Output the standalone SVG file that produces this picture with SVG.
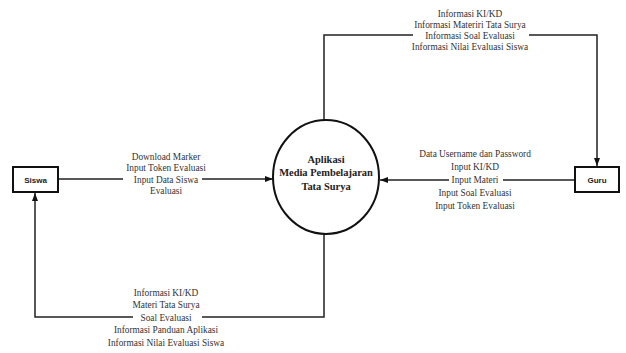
<svg xmlns="http://www.w3.org/2000/svg" width="626" height="353" viewBox="0 0 626 353">
<style>
.box{fill:#fff;stroke:#111;stroke-width:2}
.proc{fill:#fff;stroke:#111;stroke-width:2}
.ent{font-family:"Liberation Sans",Arial,sans-serif;font-weight:bold;font-size:8px;fill:#222;text-anchor:middle}
.ptxt{font-family:"Liberation Serif","Times New Roman",serif;font-weight:bold;font-size:11px;fill:#222;text-anchor:middle}
.lbl{font-family:"Liberation Serif","Times New Roman",serif;font-size:11px;fill:#333;text-anchor:middle}
.flow{fill:none;stroke:#222;stroke-width:1.5}
</style>
<defs>
<marker id="arr" viewBox="0 0 8 6" refX="8" refY="3" markerWidth="8" markerHeight="6" markerUnits="userSpaceOnUse" orient="auto">
<path d="M0,0 L8,3 L0,6 z" fill="#111"/>
</marker>
</defs>
<rect width="626" height="353" fill="#fff"/>
<g id="connectors">
<path class="flow" d="M58,179 H123 M202,179 H273" marker-end="url(#arr)"/>
<path class="flow" d="M575,180 H503 M449,180 H380" marker-end="url(#arr)"/>
<path class="flow" d="M324,120 V35 H413 M529,35 H597 V166" marker-end="url(#arr)"/>
<path class="flow" d="M324,234 V317 H202 M133,317 H35 V193" marker-end="url(#arr)"/>
</g>
<g id="label-siswa-in" transform="translate(166,0) scale(0.85,1)">
<text class="lbl" x="0" y="160.5">Download Marker</text>
<text class="lbl" x="0" y="171.5">Input Token Evaluasi</text>
<text class="lbl" x="0" y="183">Input Data Siswa</text>
<text class="lbl" x="0" y="194.5">Evaluasi</text>
</g>
<g id="label-guru-in" transform="translate(475,0) scale(0.85,1)">
<text class="lbl" x="0" y="157">Data Username dan Password</text>
<text class="lbl" x="0" y="170">Input KI/KD</text>
<text class="lbl" x="0" y="183.5">Input Materi</text>
<text class="lbl" x="0" y="196">Input Soal Evaluasi</text>
<text class="lbl" x="0" y="209">Input Token Evaluasi</text>
</g>
<g id="label-guru-out" transform="translate(470,0) scale(0.85,1)">
<text class="lbl" x="0" y="17.5">Informasi KI/KD</text>
<text class="lbl" x="0" y="28.5">Informasi Materiri Tata Surya</text>
<text class="lbl" x="0" y="39">Informasi Soal Evaluasi</text>
<text class="lbl" x="0" y="50">Informasi Nilai Evaluasi Siswa</text>
</g>
<g id="label-siswa-out" transform="translate(166,0) scale(0.85,1)">
<text class="lbl" x="0" y="296.5">Informasi KI/KD</text>
<text class="lbl" x="0" y="308.5">Materi Tata Surya</text>
<text class="lbl" x="0" y="321">Soal Evaluasi</text>
<text class="lbl" x="0" y="333.5">Informasi Panduan Aplikasi</text>
<text class="lbl" x="0" y="346">Informasi Nilai Evaluasi Siswa</text>
</g>
<g id="siswa">
<rect class="box" x="13" y="167" width="45" height="25"/>
<text class="ent" x="35.5" y="182.5">Siswa</text>
</g>
<g id="guru">
<rect class="box" x="575" y="167" width="44" height="25"/>
<text class="ent" x="597" y="182.5">Guru</text>
</g>
<g id="aplikasi">
<ellipse class="proc" cx="326" cy="177" rx="53" ry="57"/>
<g transform="translate(326,0) scale(0.95,1)">
<text class="ptxt" x="0" y="163">Aplikasi</text>
<text class="ptxt" x="0" y="176.5">Media Pembelajaran</text>
<text class="ptxt" x="0" y="190">Tata Surya</text>
</g>
</g>
</svg>
